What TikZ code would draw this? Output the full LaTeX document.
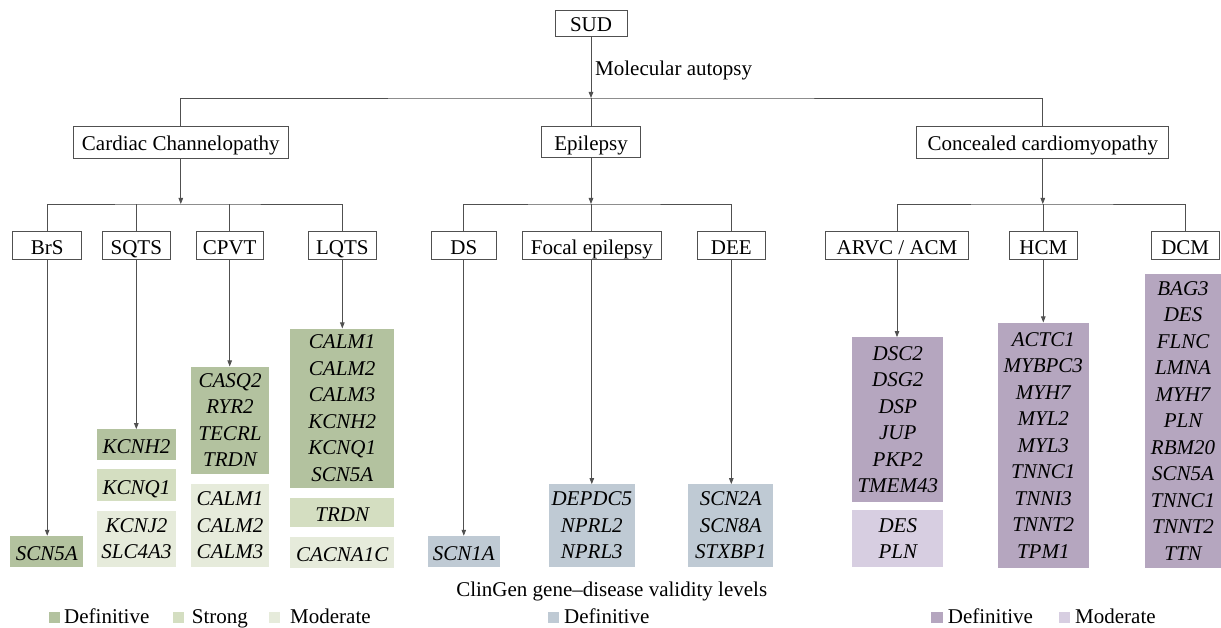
\documentclass[tikz,border=0pt]{standalone}
\usepackage{fontspec}
\setmainfont{Liberation Serif}
\usetikzlibrary{arrows.meta}
\definecolor{gdef}{RGB}{179,194,159}
\definecolor{gstr}{RGB}{212,222,193}
\definecolor{gmod}{RGB}{230,235,219}
\definecolor{bdef}{RGB}{191,202,212}
\definecolor{pdef}{RGB}{181,166,191}
\definecolor{pmod}{RGB}{215,206,225}
\definecolor{ln}{RGB}{80,80,80}
\begin{document}
\begin{tikzpicture}[x=1pt,y=-1pt,
  every node/.style={font=\fontsize{21}{26.5}\selectfont, inner sep=0pt},
  tbox/.style={draw=ln, line width=0.9pt, fill=white, text height=18pt, text depth=0pt},
  gene/.style={fill=#1, align=center, font=\fontsize{21}{26.5}\selectfont\itshape},
  one/.style={text height=18pt, text depth=0pt},
  conn/.style={draw=ln, line width=0.8pt},
  arr/.style={conn, -{Triangle[length=6pt,width=4.5pt]}},
  lsq/.style={fill=#1, minimum size=11.5pt, anchor=south west}]
\useasboundingbox (0,0) rectangle (1221,628);
\fill[white] (0,0) rectangle (1221,628);

% top
\node[tbox, minimum width=72pt, minimum height=26pt] (sud) at (591,23) {SUD};
\node[anchor=base west] (mol) at (595,76) {Molecular autopsy};
\coordinate (j0) at (591,98);

% level 1
\node[tbox, minimum width=215pt, minimum height=32pt] (cc) at (180.8,142) {Cardiac Channelopathy};
\node[tbox, minimum width=99pt, minimum height=31pt] (ep) at (591,142) {Epilepsy};
\node[tbox, minimum width=252pt, minimum height=32pt] (ccm) at (1042.8,142) {Concealed cardiomyopathy};
\coordinate (j1) at (180.8,204);
\coordinate (j2) at (591,204);
\coordinate (j3) at (1042.8,204);

% level 2
\node[tbox, minimum width=69pt, minimum height=27.6pt] (brs) at (47.2,245.5) {BrS};
\node[tbox, minimum width=67.3pt, minimum height=27.6pt] (sqts) at (136.3,245.5) {SQTS};
\node[tbox, minimum width=67.3pt, minimum height=27.6pt] (cpvt) at (229.7,245.5) {CPVT};
\node[tbox, minimum width=67.3pt, minimum height=27.6pt] (lqts) at (342.3,245.5) {LQTS};
\node[tbox, minimum width=65.7pt, minimum height=27.6pt] (ds) at (463.8,245.5) {DS};
\node[tbox, minimum width=139pt, minimum height=27.6pt] (fe) at (591.8,245.5) {Focal epilepsy};
\node[tbox, minimum width=68.7pt, minimum height=27.6pt] (dee) at (731.3,245.5) {DEE};
\node[tbox, minimum width=143pt, minimum height=27.6pt] (arvc) at (897,245.5) {ARVC / ACM};
\node[tbox, minimum width=68.7pt, minimum height=27.6pt] (hcm) at (1043.3,245.5) {HCM};
\node[tbox, minimum width=68.3pt, minimum height=27.6pt] (dcm) at (1185.2,245.5) {DCM};

% gene boxes
\node[gene=gdef, one, minimum width=73.3pt, minimum height=30.7pt] (gbrs) at (46.7,551.3) {SCN5A};
\node[gene=gdef, one, minimum width=78.5pt, minimum height=30.7pt] (gsq1) at (136.5,444.7) {KCNH2};
\node[gene=gstr, one, minimum width=78.5pt, minimum height=31.4pt] (gsq2) at (136.5,485) {KCNQ1};
\node[gene=gmod, minimum width=78.5pt, minimum height=56pt] (gsq3) at (136.5,538.7) {KCNJ2\\SLC4A3};
\node[gene=gdef, minimum width=78.6pt, minimum height=107.3pt] (gcp1) at (230,420.3) {CASQ2\\RYR2\\TECRL\\TRDN};
\node[gene=gmod, minimum width=78.6pt, minimum height=82.7pt] (gcp2) at (230,525.3) {CALM1\\CALM2\\CALM3};
\node[gene=gdef, minimum width=104.3pt, minimum height=159.3pt] (glq1) at (342.2,408.3) {CALM1\\CALM2\\CALM3\\KCNH2\\KCNQ1\\SCN5A};
\node[gene=gstr, one, minimum width=104.3pt, minimum height=29pt] (glq2) at (342.2,512.2) {TRDN};
\node[gene=gmod, one, minimum width=104.3pt, minimum height=31pt] (glq3) at (342.2,552.2) {CACNA1C};
\node[gene=bdef, one, minimum width=72.3pt, minimum height=30.7pt] (gds) at (463.8,551.3) {SCN1A};
\node[gene=bdef, minimum width=85.7pt, minimum height=82.4pt] (gfe) at (591.8,525.5) {DEPDC5\\NPRL2\\NPRL3};
\node[gene=bdef, minimum width=85.3pt, minimum height=82.4pt] (gdee) at (730.7,525.5) {SCN2A\\SCN8A\\STXBP1};
\node[gene=pdef, minimum width=91pt, minimum height=164.4pt] (gar1) at (897.8,419.5) {DSC2\\DSG2\\DSP\\JUP\\PKP2\\TMEM43};
\node[gene=pmod, minimum width=91pt, minimum height=56.7pt] (gar2) at (897.8,538.3) {DES\\PLN};
\node[gene=pdef, minimum width=90.7pt, minimum height=245pt] (ghcm) at (1043.3,445.2) {ACTC1\\MYBPC3\\MYH7\\MYL2\\MYL3\\TNNC1\\TNNI3\\TNNT2\\TPM1};
\node[gene=pdef, minimum width=76pt, minimum height=293.4pt] (gdcm) at (1183,421) {BAG3\\DES\\FLNC\\LMNA\\MYH7\\PLN\\RBM20\\SCN5A\\TNNC1\\TNNT2\\TTN};

% connectors
\draw[arr] (sud.south) -- (j0);
\draw[conn] (cc.north) |- (j0) -| (ccm.north);
\draw[conn] (j0) -- (ep.north);
\draw[arr] (cc.south) -- (j1);
\draw[arr] (ep.south) -- (j2);
\draw[arr] (ccm.south) -- (j3);
\draw[conn] (brs.north) |- (j1) -| (lqts.north);
\draw[conn] (sqts.north) -- (sqts.north |- j1);
\draw[conn] (cpvt.north) -- (cpvt.north |- j1);
\draw[conn] (ds.north) |- (j2) -| (dee.north);
\draw[conn] (fe.north) -- (fe.north |- j2);
\draw[conn] (arvc.north) |- (j3) -| (dcm.north);
\draw[conn] (hcm.north) -- (hcm.north |- j3);

\draw[arr] (brs.south) -- (brs.south |- gbrs.north);
\draw[arr] (sqts.south) -- (sqts.south |- gsq1.north);
\draw[arr] (cpvt.south) -- (cpvt.south |- gcp1.north);
\draw[arr] (lqts.south) -- (lqts.south |- glq1.north);
\draw[arr] (ds.south) -- (ds.south |- gds.north);
\draw[arr] (fe.south) -- (fe.south |- gfe.north);
\draw[arr] (dee.south) -- (dee.south |- gdee.north);
\draw[arr] (arvc.south) -- (arvc.south |- gar1.north);
\draw[arr] (hcm.south) -- (hcm.south |- ghcm.north);

% legend
\node[anchor=base] (lgt) at (611.7,596) {ClinGen gene–disease validity levels};
\node[lsq=gdef] (l1s) at (48.3,623.3) {};
\node[anchor=base west] (l1t) at (64,623.3) {Definitive};
\node[lsq=gstr] (l2s) at (172.3,623.3) {};
\node[anchor=base west] (l2t) at (191.7,623.3) {Strong};
\node[lsq=gmod] (l3s) at (268.3,623.3) {};
\node[anchor=base west] (l3t) at (290,623.3) {Moderate};
\node[lsq=bdef] (l4s) at (547.7,623.3) {};
\node[anchor=base west] (l4t) at (564,623.3) {Definitive};
\node[lsq=pdef] (l5s) at (931,623.3) {};
\node[anchor=base west] (l5t) at (947.7,623.3) {Definitive};
\node[lsq=pmod] (l6s) at (1058.3,623.3) {};
\node[anchor=base west] (l6t) at (1075,623.3) {Moderate};
\end{tikzpicture}
\end{document}
